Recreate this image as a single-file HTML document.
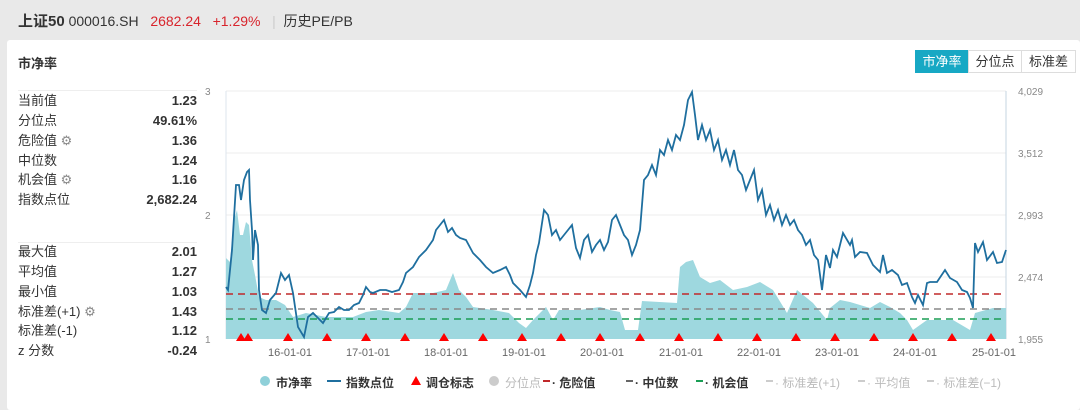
<!DOCTYPE html>
<html><head><meta charset="utf-8"><style>
body{margin:0;width:1080px;height:410px;background:#e9e9e9;font-family:"Liberation Sans","Noto Sans CJK SC",sans-serif;position:relative;overflow:hidden}
.hd{position:absolute;top:10px;left:18px;font-size:14px;color:#333;white-space:nowrap}
.card{position:absolute;left:7px;top:40px;width:1073px;height:370px;background:#fff;border-radius:3px}
.row{position:absolute;left:18px;width:179px;height:20px;font-size:13px;line-height:20px;color:#333;display:flex;justify-content:space-between;align-items:center}
.row b{font-weight:bold}
.btn{position:absolute;top:50px;height:21px;font-size:13px;line-height:21px;text-align:center;border:1px solid #ddd;color:#333}
.lg{position:absolute;top:374px;font-size:12px;font-weight:bold;color:#333;white-space:nowrap}
.lg.g{color:#bbb;font-weight:normal}
</style></head><body>
<div class="hd"><b style="font-size:15px">上证50</b> 000016.SH&nbsp;&nbsp;&nbsp;<span style="color:#d8242c">2682.24&nbsp;&nbsp;&nbsp;+1.29%</span>&nbsp;&nbsp;&nbsp;<span style="color:#ccc">|</span>&nbsp;&nbsp;历史PE/PB</div>
<div class="card"></div>
<div style="position:absolute;left:18px;top:53px;font-size:13px;font-weight:bold;color:#333">市净率</div>
<div style="position:absolute;left:18px;top:90px;width:179px;border-top:1px solid #eee"></div>
<div style="position:absolute;left:18px;top:242px;width:179px;border-top:1px solid #eee"></div>
<div class="row" style="top:91px"><span>当前值</span><b>1.23</b></div>
<div class="row" style="top:111px"><span>分位点</span><b>49.61%</b></div>
<div class="row" style="top:131px"><span>危险值 <span style="color:#888">⚙</span></span><b>1.36</b></div>
<div class="row" style="top:151px"><span>中位数</span><b>1.24</b></div>
<div class="row" style="top:170px"><span>机会值 <span style="color:#888">⚙</span></span><b>1.16</b></div>
<div class="row" style="top:190px"><span>指数点位</span><b>2,682.24</b></div>
<div class="row" style="top:242px"><span>最大值</span><b>2.01</b></div>
<div class="row" style="top:262px"><span>平均值</span><b>1.27</b></div>
<div class="row" style="top:282px"><span>最小值</span><b>1.03</b></div>
<div class="row" style="top:302px"><span>标准差(+1) <span style="color:#888">⚙</span></span><b>1.43</b></div>
<div class="row" style="top:321px"><span>标准差(-1)</span><b>1.12</b></div>
<div class="row" style="top:341px"><span>z 分数</span><b>-0.24</b></div>
<div class="btn" style="left:915px;width:52px;background:#17a8c4;color:#fff;border-color:#17a8c4">市净率</div>
<div class="btn" style="left:968px;width:52px">分位点</div>
<div class="btn" style="left:1021px;width:53px">标准差</div>
<svg style="position:absolute;left:0;top:0" width="1080" height="410">
<g font-size="10" fill="#888" font-family="Liberation Sans,sans-serif">
<text x="205" y="95">3</text><text x="205" y="219">2</text><text x="205" y="343">1</text>
<text x="1018" y="95">4,029</text><text x="1018" y="157">3,512</text><text x="1018" y="219">2,993</text><text x="1018" y="281">2,474</text><text x="1018" y="343">1,955</text>
</g>
<g stroke="#eee"><line x1="226" y1="91" x2="1006" y2="91"/><line x1="226" y1="153" x2="1006" y2="153"/><line x1="226" y1="215" x2="1006" y2="215"/><line x1="226" y1="277" x2="1006" y2="277"/></g>
<line x1="226" y1="91" x2="226" y2="339" stroke="#dde4ec"/><line x1="1006" y1="91" x2="1006" y2="339" stroke="#c6d4e2"/>
<polygon fill="#9ed8df" points="226,339 226,258 230,262 234,220 237,210 240,235 243,235 246,222 249,225 252,260 255,275 259,297 266,300 276,300 285,305 293,317 306,313 326,317 353,317 366,312 379,310 399,313 406,307 413,293 433,293 446,290 453,273 459,290 466,297 473,307 493,310 509,313 519,323 526,328 533,320 546,307 553,320 559,310 580,310 600,307 610,310 620,312 625,330 638,330 642,301 677,303 680,267 686,262 693,260 700,277 710,283 720,280 733,290 747,287 760,282 773,290 787,313 797,290 813,303 827,320 830,308 840,300 850,302 860,305 870,308 880,302 890,307 900,313 907,320 913,330 927,320 953,320 970,330 975,313 993,308 1006,308 1006,339"/>
<g stroke-width="1.6" stroke-dasharray="7,5" fill="none">
<line x1="226" y1="294" x2="1006" y2="294" stroke="#c0282a"/>
<line x1="226" y1="309" x2="1006" y2="309" stroke="#888"/>
<line x1="226" y1="319" x2="1006" y2="319" stroke="#1a9e55"/>
</g>
<polyline fill="none" stroke="#1f6f9f" stroke-width="1.8" points="226,287 228,290 232,250 236,185 239,185 241,200 244,180 247,172 249,170 250,200 252,230 253,260 255,230 258,245 259,290 262,310 266,313 270,300 276,293 281,273 285,280 289,275 293,293 298,327 304,337 308,317 313,313 318,318 323,323 329,313 334,312 339,307 344,310 349,310 354,305 359,303 363,295 366,287 370,292 373,293 380,290 386,290 392,292 399,290 403,282 406,273 413,267 419,257 426,250 433,240 436,230 440,225 444,220 448,232 452,228 456,235 460,238 466,240 473,253 480,260 486,267 493,273 500,270 506,267 510,275 513,283 520,290 526,297 530,285 533,273 536,255 539,243 544,210 548,215 552,235 556,230 560,240 564,235 568,230 572,225 576,248 580,258 584,240 588,235 592,252 596,245 600,240 604,250 608,242 612,220 616,215 620,225 624,235 628,240 632,255 636,245 640,230 644,180 648,175 652,165 656,175 660,150 664,155 668,140 672,150 676,135 680,140 684,125 688,100 692,92 695,115 698,140 702,125 706,140 710,130 714,150 718,140 722,160 726,150 730,165 734,150 738,170 742,175 746,190 750,180 754,170 758,200 762,190 766,215 770,205 774,220 778,210 782,225 786,215 790,225 794,220 798,230 802,235 806,245 810,240 814,255 818,260 822,290 826,255 830,268 833,250 837,257 843,233 850,245 852,240 855,257 860,252 867,253 873,265 880,272 883,255 887,273 892,270 898,275 902,285 907,283 912,297 915,303 918,295 923,305 927,283 930,282 937,282 945,270 950,278 957,282 962,290 967,292 970,298 973,308 975,243 978,252 983,242 987,260 993,252 997,263 1002,262 1006,250"/>
<g fill="#f00">
<path d="M241,333l-5,8h10z"/><path d="M248,333l-5,8h10z"/><path d="M288,333l-5,8h10z"/><path d="M327,333l-5,8h10z"/><path d="M366,333l-5,8h10z"/><path d="M405,333l-5,8h10z"/><path d="M444,333l-5,8h10z"/><path d="M483,333l-5,8h10z"/><path d="M522,333l-5,8h10z"/><path d="M561,333l-5,8h10z"/><path d="M600,333l-5,8h10z"/><path d="M640,333l-5,8h10z"/><path d="M679,333l-5,8h10z"/><path d="M718,333l-5,8h10z"/><path d="M757,333l-5,8h10z"/><path d="M796,333l-5,8h10z"/><path d="M835,333l-5,8h10z"/><path d="M874,333l-5,8h10z"/><path d="M913,333l-5,8h10z"/><path d="M952,333l-5,8h10z"/><path d="M991,333l-5,8h10z"/>
</g>
<g font-size="11" fill="#666" text-anchor="middle" font-family="Liberation Sans,sans-serif">
<text x="290" y="356">16-01-01</text><text x="368" y="356">17-01-01</text><text x="446" y="356">18-01-01</text><text x="524" y="356">19-01-01</text><text x="602" y="356">20-01-01</text><text x="681" y="356">21-01-01</text><text x="759" y="356">22-01-01</text><text x="837" y="356">23-01-01</text><text x="915" y="356">24-01-01</text><text x="994" y="356">25-01-01</text>
</g>
<circle cx="265" cy="381" r="5" fill="#8fd0d9"/>
<line x1="327" y1="381" x2="341" y2="381" stroke="#1f6f9f" stroke-width="2"/>
<path d="M416,376l-5,9h10z" fill="#f00"/>
<circle cx="494" cy="381" r="5" fill="#ccc"/>
<g stroke-width="2"><line x1="543" y1="381" x2="550" y2="381" stroke="#c0282a"/><line x1="626" y1="381" x2="633" y2="381" stroke="#666"/><line x1="696" y1="381" x2="703" y2="381" stroke="#1a9e55"/><line x1="766" y1="381" x2="773" y2="381" stroke="#ccc"/><line x1="858" y1="381" x2="865" y2="381" stroke="#ccc"/><line x1="927" y1="381" x2="934" y2="381" stroke="#ccc"/></g>
</svg>
<div class="lg" style="left:276px">市净率</div>
<div class="lg" style="left:346px">指数点位</div>
<div class="lg" style="left:426px">调仓标志</div>
<div class="lg g" style="left:505px">分位点</div>
<div class="lg" style="left:552px">· 危险值</div>
<div class="lg" style="left:635px">· 中位数</div>
<div class="lg" style="left:705px">· 机会值</div>
<div class="lg g" style="left:775px">· 标准差(+1)</div>
<div class="lg g" style="left:867px">· 平均值</div>
<div class="lg g" style="left:936px">· 标准差(−1)</div>
</body></html>
